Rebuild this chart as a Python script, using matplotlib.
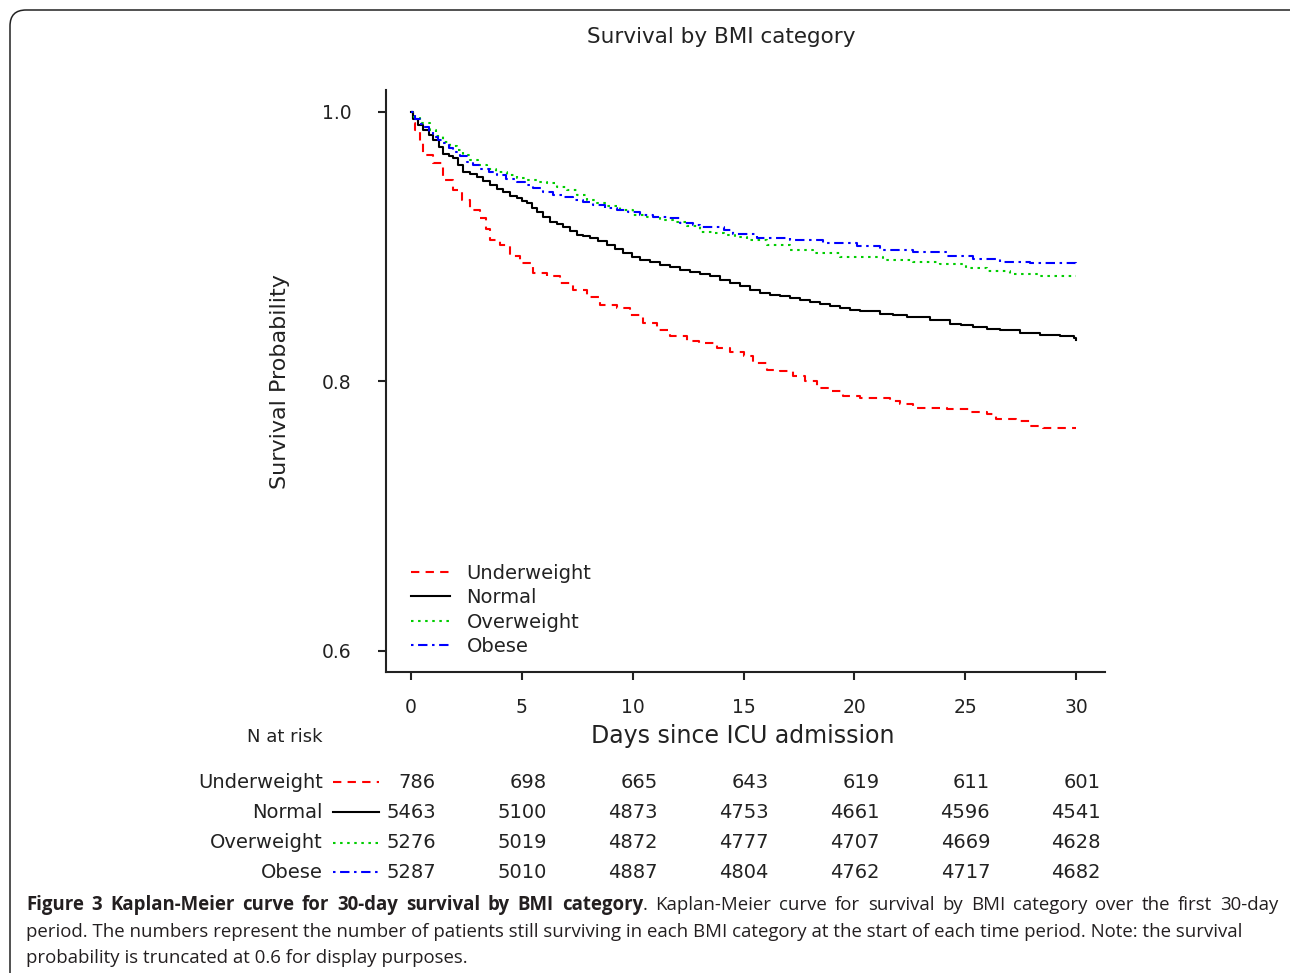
import matplotlib
matplotlib.use("Agg")
from matplotlib import pyplot as plt
from matplotlib.lines import Line2D
from matplotlib.patches import FancyBboxPatch
from matplotlib.transforms import IdentityTransform

# Kaplan-Meier curves (day, survival)
UNDER_DAYS = [0, 0.1, 0.18, 0.4, 0.55, 1.0, 1.46, 1.9, 2.29, 2.66, 3.11, 3.4, 3.56, 4.0, 4.47,
              4.92, 5.52, 6.12, 6.72, 7.32, 7.92, 8.52, 9.28, 9.88, 10.48, 11.08, 11.68, 12.44,
              13.0, 13.8, 14.4, 15.0, 15.44, 16.04, 16.64, 17.24, 17.77, 18.3, 18.9, 19.5,
              20.25, 21.6, 22.06, 22.66, 24.16, 25.2, 25.97, 26.4, 27.3, 27.92, 28.5, 30]
UNDER_SURV = [1.0, 0.992, 0.9867, 0.9768, 0.968, 0.962, 0.9496, 0.942, 0.935, 0.9274, 0.9213,
              0.913, 0.905, 0.9015, 0.893, 0.888, 0.8805, 0.878, 0.873, 0.868, 0.863, 0.857,
              0.8546, 0.8496, 0.8435, 0.838, 0.8335, 0.830, 0.8287, 0.825, 0.8217, 0.8187,
              0.8138, 0.8089, 0.8076, 0.804, 0.8002, 0.7953, 0.7928, 0.789, 0.7874, 0.7854,
              0.783, 0.780, 0.7793, 0.777, 0.7756, 0.772, 0.7706, 0.767, 0.7654, 0.7654]

NORMAL_DAYS = [0, 0.1, 0.3, 0.55, 0.8, 1.0, 1.25, 1.46, 1.7, 1.9, 2.1, 2.36, 2.66, 2.96, 3.25,
               3.56, 3.86, 4.16, 4.46, 4.77, 5.0, 5.22, 5.45, 5.67, 5.97, 6.27, 6.57, 6.87,
               7.17, 7.47, 7.77, 8.07, 8.45, 8.83, 9.2, 9.58, 9.95, 10.33, 10.8, 11.23, 11.7,
               12.13, 12.6, 13.04, 13.5, 13.94, 14.4, 14.84, 15.3, 15.74, 16.2, 16.64, 17.1,
               17.55, 18.0, 18.45, 18.9, 19.35, 19.8, 20.25, 21.15, 21.75, 22.36, 23.4, 24.3,
               24.8, 25.36, 26.0, 26.57, 27.47, 28.37, 29.27, 29.9, 30]
NORMAL_SURV = [1.0, 0.995, 0.990, 0.9867, 0.983, 0.979, 0.974, 0.969, 0.967, 0.9657, 0.961,
               0.9558, 0.954, 0.952, 0.949, 0.946, 0.943, 0.941, 0.938, 0.936, 0.934, 0.9324,
               0.929, 0.926, 0.922, 0.9187, 0.917, 0.915, 0.912, 0.909, 0.9077, 0.9064, 0.904,
               0.9015, 0.898, 0.8953, 0.8927, 0.890, 0.8885, 0.8867, 0.885, 0.883, 0.881,
               0.8798, 0.878, 0.8756, 0.873, 0.8706, 0.868, 0.866, 0.8645, 0.8632, 0.862,
               0.8607, 0.8592, 0.8578, 0.856, 0.8546, 0.8533, 0.852, 0.8504, 0.8492, 0.848,
               0.8454, 0.8427, 0.8416, 0.8405, 0.8392, 0.838, 0.836, 0.8348, 0.8335, 0.832,
               0.831]

OVER_DAYS = [0, 0.15, 0.4, 0.86, 1.15, 1.46, 1.76, 2.06, 2.36, 2.66, 3.0, 3.41, 3.85, 4.32,
             4.77, 5.22, 5.67, 6.12, 6.57, 7.02, 7.47, 7.92, 8.37, 8.83, 9.43, 10.03, 10.63,
             11.23, 11.83, 12.44, 13.04, 13.6, 14.1, 14.6, 15.14, 16.04, 17.1, 18.15, 19.35,
             21.3, 22.66, 23.86, 25.06, 25.97, 27.02, 28.37, 30]
OVER_SURV = [1.0, 0.996, 0.9916, 0.9867, 0.982, 0.978, 0.975, 0.9719, 0.968, 0.9644, 0.961,
             0.958, 0.9555, 0.9533, 0.951, 0.9496, 0.948, 0.947, 0.9445, 0.942, 0.9385, 0.935,
             0.9325, 0.930, 0.927, 0.9237, 0.922, 0.920, 0.918, 0.9155, 0.9113, 0.910, 0.909,
             0.907, 0.905, 0.9015, 0.8978, 0.8953, 0.8923, 0.890, 0.889, 0.8874, 0.8842,
             0.882, 0.880, 0.8785, 0.8785]

OBESE_DAYS = [0, 0.2, 0.4, 0.55, 0.8, 1.0, 1.23, 1.46, 1.7, 1.9, 2.2, 2.51, 2.8, 3.11, 3.5,
              3.87, 4.3, 4.77, 5.15, 5.52, 5.97, 6.42, 6.87, 7.32, 7.77, 8.22, 8.75, 9.28, 9.8,
              10.33, 10.93, 11.53, 12.13, 12.73, 13.04, 14.1, 14.54, 15.6, 17.1, 18.6, 20.1,
              21.15, 22.66, 24.16, 25.36, 26.57, 27.92, 30]
OBESE_SURV = [1.0, 0.995, 0.991, 0.989, 0.985, 0.9817, 0.979, 0.9768, 0.973, 0.9706, 0.967,
              0.963, 0.9605, 0.958, 0.9555, 0.9533, 0.9505, 0.948, 0.9458, 0.9435, 0.941,
              0.9385, 0.9368, 0.935, 0.933, 0.931, 0.929, 0.9274, 0.9255, 0.9237, 0.9223,
              0.921, 0.9175, 0.9163, 0.9146, 0.9126, 0.9096, 0.9064, 0.905, 0.9027, 0.9007,
              0.8978, 0.8958, 0.8933, 0.8909, 0.889, 0.888, 0.8862]

GROUPS = ["Underweight", "Normal", "Overweight", "Obese"]

# numbers at risk
RISK_TIMES = [0, 5, 10, 15, 20, 25, 30]
RISK_UNDER = [786, 698, 665, 643, 619, 611, 601]
RISK_NORMAL = [5463, 5100, 4873, 4753, 4661, 4596, 4541]
RISK_OVER = [5276, 5019, 4872, 4777, 4707, 4669, 4628]
RISK_OBESE = [5287, 5010, 4887, 4804, 4762, 4717, 4682]

X_TICKS = [0, 5, 10, 15, 20, 25, 30]
Y_TICKS = [0.6, 0.8, 1.0]

CAPTION_BOLD = "Figure 3 Kaplan-Meier curve for 30-day survival by BMI category"
CAPTION_LINE1 = ". Kaplan-Meier curve for survival by BMI category over the first 30-day"
CAPTION_LINE2 = ("period. The numbers represent the number of patients still surviving in each "
                 "BMI category at the start of each time period. Note: the survival")
CAPTION_LINE3 = "probability is truncated at 0.6 for display purposes."

W, H = 1290, 973
COLORS = ["#ff0000", "#000000", "#00cd00", "#0000ff"]
DASHES = [(4, 3), None, (1.2, 2.2), (1.2, 2.2, 4.5, 2.2)]
LW = 1.5
PLOT_FONT = "DejaVu Sans"
INK = "#222222"


def fx(px):
    return px / W


def fy(py):
    return 1 - py / H


def style_line(line, i):
    if DASHES[i] is not None:
        line.set_dashes(DASHES[i])


def main() -> None:
    fig = plt.figure(figsize=(W / 100, H / 100), dpi=100)
    fig.patch.set_facecolor("white")

    # rounded frame, cut off at the right and bottom
    frame = FancyBboxPatch((10, -60), 1340, H - 10 + 60,
                           boxstyle="round,pad=0,rounding_size=16",
                           transform=IdentityTransform(), facecolor="none",
                           edgecolor=INK, linewidth=1.1)
    fig.add_artist(frame)

    ax = fig.add_axes([fx(386), fy(672), fx(1105) - fx(386), fy(90) - fy(672)])
    px_day = (1076 - 411) / 30
    ax.set_xlim(-25 / px_day, 30 + 29 / px_day)
    px_unit = (651 - 112) / 0.4
    ax.set_ylim(0.6 - 21 / px_unit, 1.0 + 22 / px_unit)

    series = [(UNDER_DAYS, UNDER_SURV), (NORMAL_DAYS, NORMAL_SURV),
              (OVER_DAYS, OVER_SURV), (OBESE_DAYS, OBESE_SURV)]
    handles = []
    for i, (days, surv) in enumerate(series):
        line, = ax.plot(days, surv, drawstyle="steps-post", color=COLORS[i], lw=LW,
                        label=GROUPS[i])
        style_line(line, i)
        handles.append(line)

    for side in ["top", "right"]:
        ax.spines[side].set_visible(False)
    for side in ["left", "bottom"]:
        ax.spines[side].set_linewidth(1.5)
        ax.spines[side].set_color(INK)

    ax.set_xticks(X_TICKS)
    ax.set_yticks(Y_TICKS)
    ax.set_xticklabels([str(t) for t in X_TICKS])
    ax.set_yticklabels([f"{t:.1f}" for t in Y_TICKS])
    ax.tick_params(axis="x", length=6, width=1.5, pad=13, labelsize=13.5, color=INK)
    ax.tick_params(axis="y", length=6, width=1.5, pad=19, labelsize=13.5, color=INK)
    for lab in ax.get_xticklabels() + ax.get_yticklabels():
        lab.set_family(PLOT_FONT)
        lab.set_color(INK)

    leg = ax.legend(handles=handles, loc="upper left",
                    bbox_to_anchor=(fx(411), fy(564)), bbox_transform=fig.transFigure,
                    frameon=False, handlelength=2.0, handletextpad=0.85,
                    labelspacing=0.27, borderpad=0, borderaxespad=0,
                    prop={"family": PLOT_FONT, "size": 14})
    for t in leg.get_texts():
        t.set_color(INK)

    fig.text(fx(721), fy(37), "Survival by BMI category", ha="center", va="center",
             fontsize=15.5, family=PLOT_FONT, color=INK)
    fig.text(fx(280), fy(382), "Survival Probability", ha="center", va="center",
             rotation=90, fontsize=16, family=PLOT_FONT, color=INK)
    fig.text(fx(743), fy(736), "Days since ICU admission", ha="center", va="center",
             fontsize=17, family=PLOT_FONT, color=INK)

    # numbers at risk table
    fig.text(fx(285), fy(737), "N at risk", ha="center", va="center",
             fontsize=13, family=PLOT_FONT, color=INK)
    risk_rows = [RISK_UNDER, RISK_NORMAL, RISK_OVER, RISK_OBESE]
    row_y = [782, 812, 843, 872]
    for i, counts in enumerate(risk_rows):
        fig.text(fx(323), fy(row_y[i]), GROUPS[i], ha="right", va="center",
                 fontsize=14, family=PLOT_FONT, color=INK)
        sample = Line2D([fx(333), fx(379)], [fy(row_y[i]), fy(row_y[i])],
                        transform=fig.transFigure, color=COLORS[i], lw=LW)
        style_line(sample, i)
        fig.add_artist(sample)
        for t, n in zip(RISK_TIMES, counts):
            ax.annotate(str(n), xy=(t, fy(row_y[i])), xycoords=("data", "figure fraction"),
                        xytext=(25, 0), textcoords="offset pixels", ha="right", va="center",
                        fontsize=14, family=PLOT_FONT, color=INK, annotation_clip=False)

    # caption, sized so its lines fit the widths seen in the reference
    cap_font = "Open Sans"
    cap_color = "#231f20"
    renderer = fig.canvas.get_renderer()

    def width_of(text, size, weight="normal"):
        probe = fig.text(0, 0, text, fontsize=size, family=cap_font, weight=weight)
        w = probe.get_window_extent(renderer).width
        probe.remove()
        return w

    w1 = width_of(CAPTION_BOLD, 10, "bold") + width_of(CAPTION_LINE1, 10)
    w2 = width_of(CAPTION_LINE2, 10)
    cap_size = min(10 * 1248 / w1, 10 * 1216 / w2)

    # first line is justified: spread the spare room over the word gaps
    tokens = [(w, "bold", True) for w in CAPTION_BOLD.split(" ")]
    rest = CAPTION_LINE1.split(" ")
    tokens.append((rest[0], "normal", False))
    tokens += [(w, "normal", True) for w in rest[1:]]
    tokens[0] = (tokens[0][0], "bold", False)
    widths = [width_of(t, cap_size, wt) for t, wt, _ in tokens]
    n_gaps = sum(1 for _, _, g in tokens if g)
    gap = (1278 - 26 - sum(widths)) / n_gaps
    x = 26
    for (t, wt, g), w in zip(tokens, widths):
        if g:
            x += gap
        fig.text(fx(x), fy(910), t, fontsize=cap_size, family=cap_font, weight=wt,
                 va="baseline", color=cap_color)
        x += w

    fig.text(fx(26), fy(937), CAPTION_LINE2, fontsize=cap_size, family=cap_font,
             va="baseline", color=cap_color)
    fig.text(fx(26), fy(963), CAPTION_LINE3, fontsize=cap_size, family=cap_font,
             va="baseline", color=cap_color)

    fig.savefig("out.png", dpi=100)


if __name__ == "__main__":
    main()
